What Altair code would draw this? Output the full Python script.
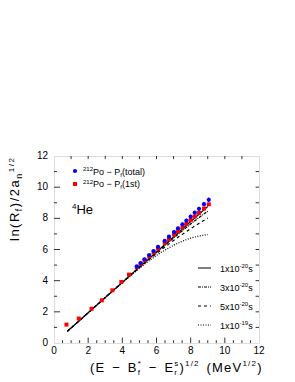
import altair as alt
import pandas as pd

# ---------------- data ----------------
red_x = [0.73, 1.45, 2.2, 2.8, 3.42, 3.94, 4.39, 4.85, 5.07, 5.3, 5.57, 5.83, 6.09, 6.48, 6.73,
         7.03, 7.26, 7.52, 7.75, 8.0, 8.24, 8.49, 8.78, 9.06]
red_y = [1.18, 1.57, 2.2, 2.74, 3.38, 3.92, 4.39, 4.87, 5.08, 5.30, 5.56, 5.81, 6.06, 6.43, 6.67,
         6.96, 7.18, 7.43, 7.65, 7.89, 8.12, 8.35, 8.63, 8.90]

blue_x = [4.85, 5.07, 5.3, 5.57, 5.83, 6.09, 6.48, 6.73, 7.03, 7.26, 7.52, 7.75, 8.0, 8.24,
          8.49, 8.78, 9.06]
blue_y = [4.91, 5.13, 5.37, 5.64, 5.90, 6.17, 6.56, 6.82, 7.12, 7.36, 7.62, 7.86, 8.11, 8.36,
          8.61, 8.91, 9.19]
blue_err = [0.05, 0.05, 0.06, 0.06, 0.07, 0.07, 0.08, 0.08, 0.09, 0.1, 0.1, 0.11, 0.12, 0.12,
            0.13, 0.14, 0.15]

curve_x = [0.78, 2, 3, 4, 5, 5.5, 6, 6.5, 7, 7.5, 8, 8.5, 9]
curve_1e20 = [0.75, 1.94, 2.92, 3.89, 4.87, 5.35, 5.84, 6.33, 6.81, 7.30, 7.79, 8.27, 8.76]
curve_3e20 = [0.75, 1.94, 2.92, 3.89, 4.86, 5.34, 5.81, 6.28, 6.74, 7.19, 7.64, 8.06, 8.46]
curve_5e20 = [0.75, 1.94, 2.92, 3.88, 4.84, 5.30, 5.74, 6.17, 6.58, 6.97, 7.34, 7.69, 8.02]
curve_1e19 = [0.75, 1.94, 2.92, 3.87, 4.80, 5.22, 5.62, 5.97, 6.27, 6.53, 6.73, 6.87, 6.96]

curve_names = ["1e-20", "3e-20", "5e-20", "1e-19"]
legend_mant = ["1x10", "3x10", "5x10", "1x10"]
legend_exp = ["-20", "-20", "-20", "-19"]
dashes = [[1, 0], [3, 1, 1, 1], [3, 3], [1, 1.5]]

x_ticks = [0, 2, 4, 6, 8, 10, 12]
y_ticks = [0, 2, 4, 6, 8, 10, 12]

# ---------------- frames ----------------
red_df = pd.DataFrame({"x": red_x, "y": red_y})
blue_df = pd.DataFrame({"x": blue_x, "y": blue_y,
                        "lo": [y - e for y, e in zip(blue_y, blue_err)],
                        "hi": [y + e for y, e in zip(blue_y, blue_err)]})
rows = []
for name, ys in zip(curve_names, [curve_1e20, curve_3e20, curve_5e20, curve_1e19]):
    for i, (xv, yv) in enumerate(zip(curve_x, ys)):
        rows.append({"series": name, "x": xv, "y": yv, "order": i})
curve_df = pd.DataFrame(rows)

W, H = 205, 187
xs = alt.Scale(domain=[0, 12], nice=False, zero=False)
ys_ = alt.Scale(domain=[0, 12], nice=False, zero=False)


def X(f="x"):
    return alt.X(f"{f}:Q", scale=xs, axis=None)


def Y(f="y"):
    return alt.Y(f"{f}:Q", scale=ys_, axis=None)


lines = alt.Chart(curve_df).mark_line(color="black", strokeWidth=1.2).encode(
    x=X(), y=Y(),
    strokeDash=alt.StrokeDash("series:N", scale=alt.Scale(domain=curve_names, range=dashes), legend=None),
    detail="series:N", order="order:Q")

red_pts = alt.Chart(red_df).mark_square(color="#ff0000", size=16, opacity=1).encode(x=X(), y=Y())
blue_err_rules = alt.Chart(blue_df).mark_rule(color="#0000ff", strokeWidth=1).encode(
    x=X(), y=Y("lo"), y2="hi:Q")
blue_pts = alt.Chart(blue_df).mark_circle(color="#0000ff", size=18, opacity=1).encode(x=X(), y=Y())

# tick labels through the scales
xlab = alt.Chart(pd.DataFrame({"v": x_ticks})).mark_text(
    fontSize=10, font="Liberation Sans", color="black", align="center", baseline="alphabetic").encode(
    x=X("v"), y=alt.value(H + 10.5), text=alt.Text("v:Q", format="d"))
ylab = alt.Chart(pd.DataFrame({"v": y_ticks})).mark_text(
    fontSize=10, font="Liberation Sans", color="black", align="right", baseline="middle").encode(
    y=Y("v"), x=alt.value(-6), text=alt.Text("v:Q", format="d"))

# inner tick marks (drawn through the scales)
maj = [2, 4, 6, 8, 10]
minor_b = [v / 2 for v in range(1, 24) if v % 4 != 0]
tick_rows = []
for v in maj:
    tick_rows.append({"x": v, "x2": v, "y": 0, "y2": 0.35})
    tick_rows.append({"x": 0, "x2": 0.35, "y": v, "y2": v})
for v in minor_b:
    tick_rows.append({"x": v, "x2": v, "y": 0, "y2": 0.18})
for v in [1, 3, 5, 7, 9, 11]:
    tick_rows.append({"x": 0, "x2": 0.18, "y": v, "y2": v})
for v in range(1, 12):
    tick_rows.append({"x": v, "x2": v, "y": 12, "y2": 11.8})
    tick_rows.append({"x": 12, "x2": 11.8, "y": v, "y2": v})
ticks = alt.Chart(pd.DataFrame(tick_rows)).mark_rule(color="black", strokeWidth=0.8).encode(
    x=X(), x2="x2:Q", y=Y(), y2="y2:Q")

# ---------------- annotations (pixel positions relative to plot origin) ----------------
OX, OY = 54, 156
AW = {' ': 278, '(': 333, ')': 333, '/': 278, '−': 584, '-': 333, '*': 389, 'E': 667, 'B': 667,
      'R': 722, 'M': 833, 'P': 667, 'H': 722, 'V': 667, 'a': 556, 'e': 556, 'f': 278, 'l': 222,
      'n': 556, 'r': 333, 's': 500, 't': 278, 'o': 556, 'x': 500, 'i': 222}
for d in "0123456789":
    AW[d] = 556


def txt(s, px, py, size=10, angle=0):
    return alt.Chart(pd.DataFrame({"t": [s]})).mark_text(
        text=s, fontSize=size, angle=angle, align="left", baseline="alphabetic",
        font="Liberation Sans", color="black").encode(x=alt.value(px - OX), y=alt.value(py - OY))


def run(groups, x0, y0, track=0.0, space_extra=0.0, angle=0, per_char=False):
    """groups: list of lists of (text, size, shift); entries in one group share a position."""
    out = []
    pos = 0.0
    for grp in groups:
        adv = 0.0
        for text, size, shift in grp:
            chunks = list(text) if per_char else [text]
            p = pos
            for ch in chunks:
                w = sum(AW.get(c, 556) for c in ch) * size / 1000.0
                if ch.strip():
                    if angle == 270:
                        out.append(txt(ch, x0 + shift, y0 - p, size, 270))
                    else:
                        out.append(txt(ch, x0 + p, y0 + shift, size, 0))
                p += w + (track if per_char else 0) + (space_extra if ch == " " else 0)
            adv = max(adv, p - pos)
        pos += adv
    return out


ann = []
# y title (rotated, reading bottom to top)
ann += run([[("ln(R", 13, 0)], [("f", 9, 3)], [(")/2a", 13, 0)], [("n", 9, 3)], [("1/2", 8, -5)]],
           19, 241, track=1.5, angle=270, per_char=True)
# x title
ann += run([[("(E − B", 13, 0)], [("f", 8, 3), ("*", 8, -6)], [(" − E", 13, 0)],
            [("r", 8, 3), ("s", 8, -6)], [(")", 13, 0)], [("1/2", 8, -6)],
            [(" (MeV", 13, 0)], [("1/2", 8, -6)], [(")", 13, 0)]],
           90, 372, track=1.2, space_extra=2.0, per_char=True)
# top-left legend
ann += [alt.Chart(pd.DataFrame({"a": [0]})).mark_circle(color="#0000ff", size=18, opacity=1).encode(
            x=alt.value(75 - OX), y=alt.value(171 - OY)),
        alt.Chart(pd.DataFrame({"a": [0]})).mark_square(color="#ff0000", size=16, opacity=1).encode(
            x=alt.value(75 - OX), y=alt.value(184 - OY))]
ann += run([[("212", 6, -3.5)], [("Po − P", 9, 0)], [("f", 6, 2)], [("(total)", 9, 0)]], 83, 174.5)
ann += run([[("212", 6, -3.5)], [("Po − P", 9, 0)], [("f", 6, 2)], [("(1st)", 9, 0)]], 83, 187)
ann += run([[("4", 8, -5)], [("He", 13, 0)]], 72, 214)
# bottom-right legend
leg_y = [268, 287, 306, 325]
for m, e, d, yy in zip(legend_mant, legend_exp, dashes, leg_y):
    ann.append(alt.Chart(pd.DataFrame({"a": [0]})).mark_rule(color="black", strokeWidth=1.2, strokeDash=d).encode(
        x=alt.value(198 - OX), x2=alt.value(211 - OX), y=alt.value(yy - OY)))
    ann += run([[(m, 9, 0)], [(e, 6, -4)], [("s", 9, 0)]], 220, yy + 3.5)

chart = alt.layer(lines, ticks, red_pts, blue_err_rules, blue_pts, xlab, ylab, *ann).properties(
    width=W, height=H,
    autosize=alt.AutoSizeParams(type="none"),
    padding={"left": 46, "top": 148, "right": 28, "bottom": 38},
).configure_view(stroke="black", strokeWidth=1).configure(background="white")

chart.save("out.html", embed_options={"renderer": "svg", "actions": False})
